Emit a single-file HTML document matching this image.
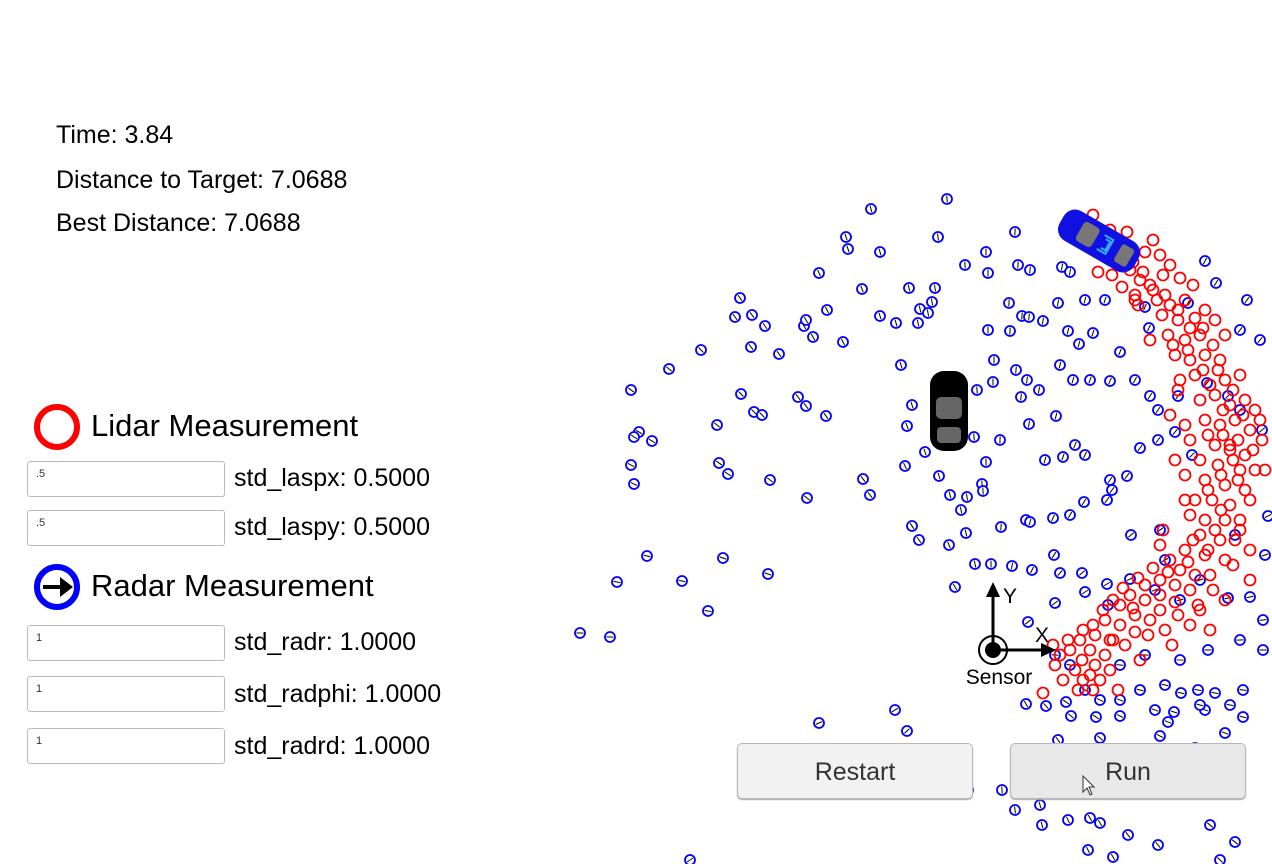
<!DOCTYPE html>
<html><head><meta charset="utf-8"><style>
body{margin:0;width:1272px;height:864px;overflow:hidden;background:#fff;font-family:"Liberation Sans",sans-serif;position:relative}
.t{position:absolute;color:#000;white-space:nowrap}
.inp{position:absolute;left:27px;width:196px;height:34px;border:1px solid #bbb;border-radius:3px;background:#fff;font-size:11px;color:#333;box-sizing:content-box}
.inp span{position:absolute;left:8px;top:6px}
.btn{position:absolute;top:743px;width:234px;height:54px;border:1px solid #b8b8b8;border-radius:5px;background:#eee;font-size:25px;color:#333;text-align:center;line-height:56px;box-shadow:0 1px 1px #aaa}
svg{position:absolute;left:0;top:0}
</style></head><body>
<svg id="plot" width="1272" height="864"></svg>

<div class="t" style="left:56px;top:121px;font-size:25px">Time: 3.84</div>
<div class="t" style="left:56px;top:166px;font-size:25px">Distance to Target: 7.0688</div>
<div class="t" style="left:56px;top:209px;font-size:25px">Best Distance: 7.0688</div>

<svg width="120" height="640" style="left:0;top:0">
<circle cx="57" cy="427" r="20" fill="none" stroke="#f00" stroke-width="6"/>
<g>
<circle cx="57" cy="587" r="20" fill="none" stroke="#00f" stroke-width="6"/>
<line x1="43" y1="587" x2="64" y2="587" stroke="#000" stroke-width="4"/>
<polygon points="73,587 60,577 60,597" fill="#000"/></g>
</svg>
<div class="t" style="left:91px;top:408px;font-size:31px">Lidar Measurement</div>
<div class="t" style="left:91px;top:568px;font-size:31px">Radar Measurement</div>

<div class="inp" style="top:461px"><span>.5</span></div>
<div class="t" style="left:234px;top:464px;font-size:25px">std_laspx: 0.5000</div>
<div class="inp" style="top:510px"><span>.5</span></div>
<div class="t" style="left:234px;top:513px;font-size:25px">std_laspy: 0.5000</div>
<div class="inp" style="top:625px"><span>1</span></div>
<div class="t" style="left:234px;top:628px;font-size:25px">std_radr: 1.0000</div>
<div class="inp" style="top:676px"><span>1</span></div>
<div class="t" style="left:234px;top:680px;font-size:25px">std_radphi: 1.0000</div>
<div class="inp" style="top:728px"><span>1</span></div>
<div class="t" style="left:234px;top:732px;font-size:25px">std_radrd: 1.0000</div>

<div class="btn" style="left:737px;background:#f2f2f2">Restart</div>
<div class="btn" style="left:1010px;background:#e8e8e8">Run</div>
<svg width="14" height="22" style="left:1082px;top:775px"><polygon points="1,1 1,17 5,13 8,20 10,19 7,12 12,12" fill="#fff" stroke="#333" stroke-width="1"/></svg>

<script>
// measurements relative to sensor, units: decimeters (x right, y up)
const radarX=[-46,-122,-147,-145,-113,-55,-7,22,-28,-5,25,37,69,77,-174,-131,-84,-58,-73,-61,16,29,36,50,65,92,112,-253,-258,-241,-228,-189,-187,-166,-113,-97,-75,-65,-292,-242,-214,-180,-150,-5,17,75,86,100,127,156,152,195,212,223,254,-324,-252,-239,-231,-276,-195,-187,-167,-92,-81,1,0,-16,23,34,28,46,67,80,97,117,142,157,165,185,214,247,267,-362,-354,-341,-359,-274,-265,-223,-186,-362,-359,-130,-123,-86,-88,-68,-54,-19,7,-7,36,63,82,52,70,92,117,134,147,165,182,199,235,247,269,275,-26,-11,-10,-43,-32,-81,-74,-44,-27,8,33,37,60,77,91,114,119,138,167,172,242,272,-346,-376,-311,-270,-225,-285,-413,-383,-38,-18,-2,19,39,61,67,89,114,137,162,187,207,235,257,270,62,92,115,35,62,77,127,152,187,215,247,270,92,107,127,147,172,205,222,250,212,237,250,33,53,73,78,103,127,162,181,188,175,207,-174,-98,-86,65,107,167,202,232,62,97,122,144,181,232,47,22,49,75,97,107,135,165,217,242,95,120,227,-303,-25,9];
const radarY=[451,441,413,401,398,413,398,418,385,377,385,380,383,378,377,361,362,362,341,348,347,334,333,329,347,350,350,352,333,335,324,324,330,340,334,327,327,337,300,303,296,313,308,320,319,319,306,317,298,322,343,347,389,367,350,281,256,238,235,225,253,244,234,285,245,290,268,260,280,270,253,260,285,270,270,269,270,254,240,254,267,320,310,260,218,209,213,187,176,170,152,185,166,171,155,224,184,198,174,213,210,188,226,234,205,190,193,195,170,174,202,210,218,195,254,240,220,134,153,166,159,155,140,124,110,105,117,123,130,128,132,135,148,150,160,115,120,90,115,95,94,68,69,92,76,39,17,13,63,86,86,84,80,95,77,77,66,71,60,50,70,52,53,30,47,58,45,28,-5,-15,-15,-5,-10,0,10,0,-40,-50,-50,-40,-35,-40,-43,-40,-60,-55,-67,-54,-56,-52,-66,-67,-66,-60,-62,-43,-72,-55,-73,-60,-81,-90,-88,-86,-98,-83,-110,-125,-130,-140,-125,-140,-155,-160,-175,-170,-168,-173,-185,-195,-175,-192,-200,-207,-210,-210,-140,-140];
const lidarX=[100,117,134,107,105,127,137,152,160,167,147,142,157,170,177,187,200,164,177,192,169,185,202,212,222,175,192,207,220,232,182,197,212,227,187,202,217,232,247,207,222,237,252,262,212,227,242,257,269,197,222,237,252,207,225,247,262,192,212,232,252,202,219,237,257,197,212,232,247,207,227,242,192,212,232,177,187,202,217,167,182,197,152,167,182,137,152,167,127,142,157,197,112,127,142,172,102,117,132,87,97,112,77,89,102,67,82,97,117,62,50,90,107,142,129,119,157,145,185,267,272,167,257,232,207,217,147,125,179,237,182,192,177,192,247,257,110,122,140,150,160,172,185,197,210,180,195,210,225,240,230,250,245,230,215,260,240,228,215,245,228,222,200,215,195,175,160,145,130,120,140,110,100,90,120,75,60,85,70,100,155,185,220,240,205,170];
const lidarY=[435,420,418,405,378,392,380,398,410,395,370,355,365,375,385,372,365,350,345,350,335,330,332,340,330,315,310,315,305,315,295,290,295,290,270,275,265,270,275,250,255,245,250,240,230,225,230,220,210,210,205,200,195,190,185,180,180,175,170,165,160,150,150,145,150,135,130,130,130,115,110,110,100,95,90,90,80,75,75,70,65,60,65,55,48,55,50,40,45,35,30,25,30,25,18,20,15,10,5,10,0,-5,0,-10,-15,-5,-20,-25,-20,-15,-43,-30,-30,350,363,375,310,345,260,230,180,105,100,50,40,20,-10,-40,5,205,190,225,235,150,120,70,395,410,388,378,360,355,340,322,322,305,300,280,280,260,240,235,210,215,215,200,190,175,160,170,140,120,110,100,88,78,82,72,62,50,42,40,25,20,10,10,5,-40,-30,-40,15,35,60,85,45,120];
const SENSOR_X=993, SENSOR_Y=650, PX_PER_UNIT=1;
const sx=v=>SENSOR_X+v*PX_PER_UNIT;
const sy=v=>SENSOR_Y-v*PX_PER_UNIT;
const NS='http://www.w3.org/2000/svg';
const svg=document.getElementById('plot');
function mk(tag,attrs,parent){const e=document.createElementNS(NS,tag);for(const k in attrs)e.setAttribute(k,attrs[k]);(parent||svg).appendChild(e);return e;}

const gR=mk('g',{});


for(let i=0;i<radarX.length;i++){
  const cx=sx(radarX[i]),cy=sy(radarY[i]);
  const g=mk('g',{},gR);
  
  
  mk('circle',{cx:cx,cy:cy,r:5,fill:'#fff',stroke:'#00f','stroke-width':1.8},g);
  const a=Math.atan2(-radarY[i],radarX[i]);
  mk('line',{x1:cx-3.5*Math.cos(a),y1:cy-3.5*Math.sin(a),x2:cx+3.5*Math.cos(a),y2:cy+3.5*Math.sin(a),stroke:'#000','stroke-width':1},g);
}
const gL=mk('g',{});


for(let i=0;i<lidarX.length;i++){
  const c=mk('circle',{cx:sx(lidarX[i]),cy:sy(lidarY[i]),r:5.5,fill:'none',stroke:'#f00','stroke-width':1.8},gL);
  
  
}
// black car
const car=mk('g',{transform:'translate(949,411)'});


mk('rect',{x:-19,y:-40,width:38,height:80,rx:14,fill:'#000'},car);
mk('rect',{x:-13,y:-14,width:26,height:22,rx:5,fill:'#666'},car);
mk('rect',{x:-12,y:16,width:24,height:16,rx:4,fill:'#666'},car);
// blue target car
const tc=mk('g',{transform:'translate(1099,241) rotate(30)'});


mk('rect',{x:-43,y:-17,width:86,height:34,rx:13,fill:'#1010e0'},tc);
mk('rect',{x:-22,y:-11,width:18,height:22,rx:4,fill:'#777'},tc);
mk('rect',{x:22,y:-10,width:14,height:20,rx:3,fill:'#777'},tc);
mk('path',{d:'M2,-8 h10 v16 h-10 M5,-5 h5 v10 h-5',fill:'none',stroke:'#3af','stroke-width':2},tc);
// sensor
const sg=mk('g',{});


mk('circle',{cx:SENSOR_X,cy:SENSOR_Y,r:14,fill:'#fff',stroke:'#000','stroke-width':2},sg);
mk('circle',{cx:SENSOR_X,cy:SENSOR_Y,r:8,fill:'#000'},sg);
mk('line',{x1:SENSOR_X,y1:SENSOR_Y,x2:SENSOR_X,y2:595,stroke:'#000','stroke-width':3},sg);
mk('polygon',{points:'993,582 986,597 1000,597',fill:'#000'},sg);
mk('line',{x1:SENSOR_X,y1:SENSOR_Y,x2:1043,y2:SENSOR_Y,stroke:'#000','stroke-width':3},sg);
mk('polygon',{points:'1056,650 1041,643 1041,657',fill:'#000'},sg);
const ty=mk('text',{x:1003,y:603,'font-size':21,'font-family':'Liberation Sans, sans-serif'},sg);ty.textContent='Y';
const tx=mk('text',{x:1035,y:642,'font-size':21,'font-family':'Liberation Sans, sans-serif'},sg);tx.textContent='X';
const ts=mk('text',{x:999,y:684,'font-size':21,'text-anchor':'middle','font-family':'Liberation Sans, sans-serif'},sg);ts.textContent='Sensor';
</script>
</body></html>
